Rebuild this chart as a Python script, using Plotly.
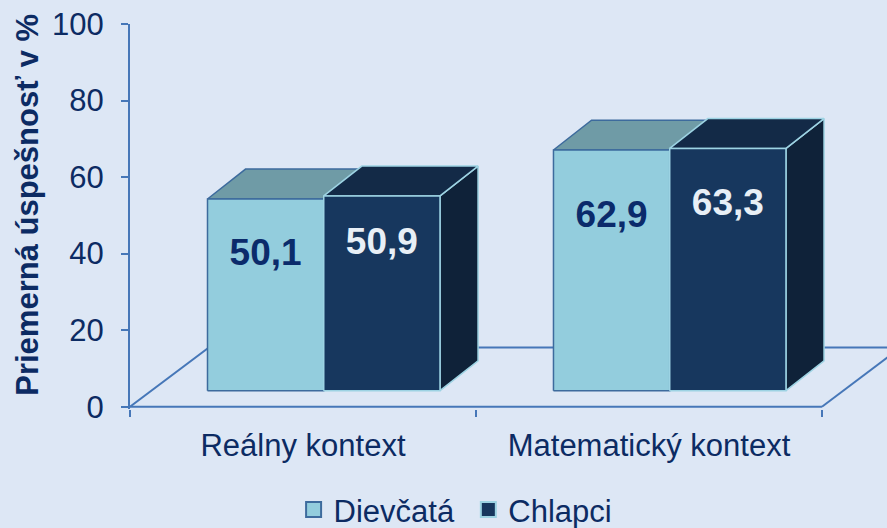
import plotly.graph_objects as go

# ---- data ----
categories = ["Reálny kontext", "Matematický kontext"]
series_names = ["Dievčatá", "Chlapci"]
dievcata = [50.1, 62.9]
chlapci = [50.9, 63.3]
y_ticks = [0, 20, 40, 60, 80, 100]
y_title = "Priemerná úspešnosť v %"

# ---- style / projection constants ----
FONT = "Liberation Sans, Arial, sans-serif"
NAVY = "#0c2b63"
BG = "#dde7f5"
AXIS_C = "#4677b8"
BAR_W = 0.336          # width of one bar front face (category units)
GROUP_START = 0.224    # offset of first bar inside category
BASE = 4.18            # front face baseline (depth shift of the bars)
DX, DY = 0.11, 7.8     # bar depth projection
FDX, FDY = 0.228, 15.5 # floor depth projection
X_MAX = 2.188

styles = [
    dict(front="#93cddd", top="#6f9ba6", side="#5e8a96", edge="#3d6b9d",
         label="#0b2b6b", label_frac=0.785, legend_x=0.331),
    dict(front="#17375e", top="#132a47", side="#0f2239", edge="#9dd3e3",
         label="#e8eff6", label_frac=0.83, legend_x=0.528),
]

fig = go.Figure()

# floor outline
n = len(categories)
floor_x = [0, n, None, 0, FDX, n + FDX, None, n, n + FDX]
floor_y = [0, 0, None, 0, FDY, FDY, None, 0, FDY]
fig.add_trace(go.Scatter(x=floor_x, y=floor_y, mode="lines",
                         line=dict(color=AXIS_C, width=2),
                         showlegend=False, hoverinfo="skip"))

series = [dievcata, chlapci]
for ci in range(n):
    for si, vals in enumerate(series):
        st = styles[si]
        v = vals[ci]
        x0 = ci + GROUP_START + si * BAR_W
        x1 = x0 + BAR_W
        b = BASE
        t = BASE + v
        side = ([x1, x1 + DX, x1 + DX, x1, x1], [b, b + DY, t + DY, t, b])
        top = ([x0, x1, x1 + DX, x0 + DX, x0], [t, t, t + DY, t + DY, t])
        front = ([x0, x1, x1, x0, x0], [b, b, t, t, b])
        for (xs, ys), col in ((side, st["side"]), (top, st["top"]), (front, st["front"])):
            fig.add_trace(go.Scatter(x=xs, y=ys, mode="lines", fill="toself",
                                     fillcolor=col,
                                     line=dict(color=st["edge"], width=1.5),
                                     showlegend=False, hoverinfo="skip"))

# value labels
for si, vals in enumerate(series):
    st = styles[si]
    xs = [ci + GROUP_START + si * BAR_W + BAR_W / 2 for ci in range(n)]
    ys = [v * st["label_frac"] for v in vals]
    fig.add_trace(go.Scatter(
        x=xs, y=ys, mode="text",
        text=[f"{v:.1f}".replace(".", ",") for v in vals],
        textfont=dict(family=FONT, size=37, color=st["label"], weight="bold"),
        showlegend=False, hoverinfo="skip"))

# legend entries (one legend per series, to control spacing)
legend_ids = ["legend", "legend2"]
for si, name in enumerate(series_names):
    st = styles[si]
    fig.add_trace(go.Scatter(
        x=[None], y=[None], mode="markers", name=name, legend=legend_ids[si],
        marker=dict(symbol="square", size=15, color=st["front"],
                    line=dict(color=st["edge"], width=2))))

legend_common = dict(orientation="h", xref="container", yref="paper",
                     xanchor="left", y=-0.262, yanchor="middle",
                     font=dict(size=31, color=NAVY), itemwidth=30,
                     bgcolor="rgba(0,0,0,0)")

fig.update_layout(
    width=887, height=528,
    margin=dict(l=130, r=0, t=24, b=119, autoexpand=False),
    paper_bgcolor=BG, plot_bgcolor=BG,
    font=dict(family=FONT, color=NAVY, size=31),
    showlegend=True,
    legend=dict(x=styles[0]["legend_x"], **legend_common),
    legend2=dict(x=styles[1]["legend_x"], **legend_common),
    xaxis=dict(range=[0, X_MAX], showgrid=False, zeroline=False, showline=False,
               automargin=False,
               tickvals=[i + 0.5 for i in range(n)], ticktext=categories,
               ticks="", ticklabelstandoff=15,
               tickfont=dict(size=31, color=NAVY),
               minor=dict(tickvals=list(range(n + 1)), ticks="outside",
                          ticklen=7, tickwidth=2, tickcolor=AXIS_C)),
    yaxis=dict(range=[-0.6, 100], showgrid=False, zeroline=False,
               automargin=False,
               showline=True, linecolor=AXIS_C, linewidth=2,
               tickvals=y_ticks, ticks="outside", ticklen=7, tickwidth=2,
               tickcolor=AXIS_C, ticklabelstandoff=11,
               tickfont=dict(size=31, color=NAVY)),
    annotations=[dict(text=y_title, xref="paper", yref="paper",
                      x=-0.135, y=0.53, xanchor="center", yanchor="middle",
                      textangle=-90, showarrow=False,
                      font=dict(size=31, color=NAVY, weight="bold"))],
)

fig.write_html("out.html", config={"displayModeBar": False},
               post_script="document.body.style.margin='0';")
